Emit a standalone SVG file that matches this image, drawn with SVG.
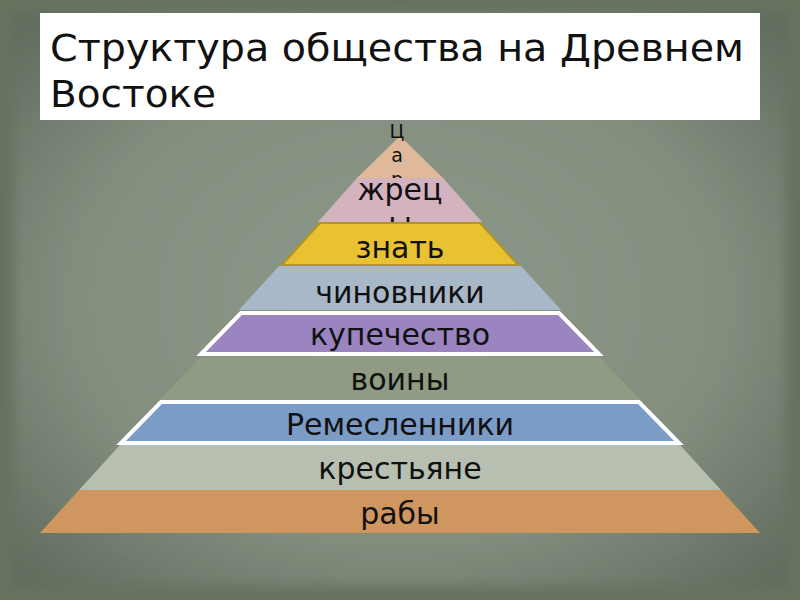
<svg xmlns="http://www.w3.org/2000/svg" width="800" height="600" viewBox="0 0 800 600">
<defs>
<radialGradient id="bg" cx="50%" cy="50%" r="70%">
<stop offset="0" stop-color="#8c9889"/>
<stop offset="0.6" stop-color="#838e7f"/>
<stop offset="1" stop-color="#5e6b5c"/>
</radialGradient>
<filter id="soft"><feGaussianBlur stdDeviation="6"/></filter>
</defs>
<style>
.lbl{font-family:"DejaVu Sans","Noto Sans",sans-serif;font-size:30px;fill:#111;text-anchor:middle}
.tsr{font-family:"DejaVu Sans","Noto Sans",sans-serif;font-size:19px;fill:#111;text-anchor:middle}
.ttl{font-family:"DejaVu Sans Condensed","DejaVu Sans",sans-serif;font-stretch:condensed;font-size:37px;fill:#111}
.wb{stroke:#ffffff;stroke-width:4;stroke-linejoin:miter}
</style>
<rect x="0" y="0" width="800" height="600" fill="#66735f"/>
<rect x="14" y="14" width="772" height="572" fill="url(#bg)" filter="url(#soft)"/>
<g id="title">
<rect x="40" y="13" width="720" height="107" fill="#ffffff"/>
<text class="ttl" x="50" y="61" textLength="694" lengthAdjust="spacingAndGlyphs">Структура общества на Древнем</text>
<text class="ttl" x="50" y="107" textLength="166" lengthAdjust="spacingAndGlyphs">Востоке</text>
</g>
<g id="tsar">
<polygon points="400,136 443,178 357,178" fill="#e0b99a"/>
<text class="tsr" x="397" y="138">Ц</text>
<text class="tsr" x="397" y="162">а</text>
<text class="tsr" x="397" y="186">р</text>
</g>
<g id="priests">
<polygon points="357,178 443,178 482,222 318,222" fill="#d4b3c0"/>
<text class="lbl" x="400" y="200">жрец</text>
<text class="lbl" x="400" y="234">ы</text>
</g>
<g id="nobility">
<polygon points="320,223 480,223 518,265 282,265" fill="#e8c230" stroke="#b39526" stroke-width="2"/>
<text class="lbl" x="400" y="258">знать</text>
</g>
<g id="officials">
<polygon points="279,266 521,266 561,310 239,310" fill="#a9b8c8"/>
<text class="lbl" x="400" y="303">чиновники</text>
</g>
<g id="merchants">
<polygon points="241,313 559,313 599,354 201,354" fill="#9b85c0" class="wb"/>
<text class="lbl" x="400" y="345">купечество</text>
</g>
<g id="warriors">
<polygon points="201,357 599,357 641,400 159,400" fill="#8f9b82"/>
<text class="lbl" x="400" y="390">воины</text>
</g>
<g id="artisans">
<polygon points="161,402 639,402 679,443 121,443" fill="#7b9cc6" class="wb"/>
<text class="lbl" x="400" y="435">Ремесленники</text>
</g>
<g id="peasants">
<polygon points="120,445 680,445 721,490 79,490" fill="#b7bfb0"/>
<text class="lbl" x="400" y="479">крестьяне</text>
</g>
<g id="slaves">
<polygon points="79,490 721,490 760,533 40,533" fill="#cf9660"/>
<text class="lbl" x="400" y="524">рабы</text>
</g>
<g id="connectors"></g>
</svg>
